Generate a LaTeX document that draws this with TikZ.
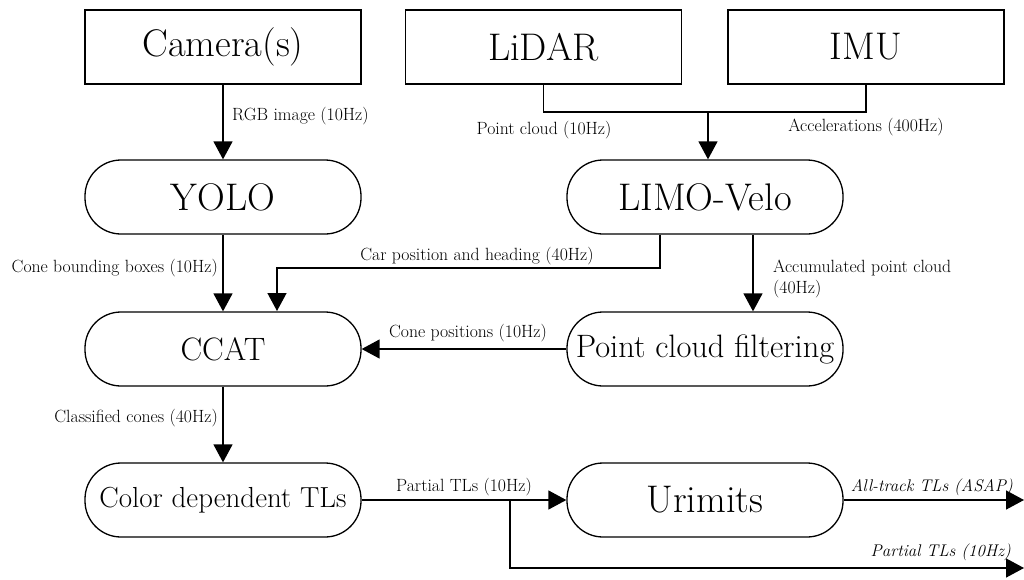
\documentclass[tikz,border=0pt]{standalone}
\usetikzlibrary{arrows.meta}
\begin{document}
\begin{tikzpicture}[x=1pt,y=-1pt,
  sensor/.style={draw,line width=1.3pt,minimum width=276pt,minimum height=74pt,inner sep=0pt,font=\fontsize{38.5}{44}\selectfont},
  proc/.style={draw,line width=1.3pt,rounded corners=36pt,minimum width=276pt,minimum height=74pt,inner sep=0pt,font=\fontsize{38.5}{44}\selectfont},
  procs/.style={proc,font=\fontsize{32.4}{37}\selectfont},
  procx/.style={proc,font=\fontsize{29}{34}\selectfont},
  conn/.style={line width=1.4pt,-{Triangle[length=18pt,width=19pt]}},
  plain/.style={line width=1.4pt},
  lbl/.style={font=\fontsize{17.7}{21}\selectfont,inner sep=0pt},
  ilbl/.style={lbl,font=\fontsize{16.9}{20}\selectfont\itshape}
]
\useasboundingbox (0,0) rectangle (1024,579);

\node[sensor] (cam) at (223,47) {Camera(s)};
\node[sensor] (lidar) at (543.5,47) {LiDAR};
\node[sensor] (imu) at (866,47) {IMU};

\node[proc] (yolo) at (223,197) {YOLO};
\node[proc] (limo) at (705,197) {LIMO-Velo};
\node[procs] (ccat) at (223,349) {CCAT};
\node[procs] (pcf) at (705,349) {Point cloud filtering};
\node[procx] (cdt) at (223,500) {Color dependent TLs};
\node[proc] (uri) at (705,500) {Urimits};

\coordinate (j) at (708,112);
\coordinate (br) at (510,500);
\coordinate (out1) at (1024,500);
\coordinate (out2) at (1024,568);

% camera -> yolo
\draw[conn] (cam) -- (yolo);
\node[lbl,anchor=west] (l1) at (232,116) {RGB image (10Hz)};

% lidar + imu -> limo
\draw[plain] (lidar.south) |- (j) -| (imu.south);
\draw[conn] (j) -- (j |- limo.north);
\node[lbl] (l2) at (544,130) {Point cloud (10Hz)};
\node[lbl] (l3) at (866,127) {Accelerations (400Hz)};

% yolo -> ccat
\draw[conn] (yolo) -- (ccat);
\node[lbl,anchor=east] (l4) at (218,268) {Cone bounding boxes (10Hz)};

% limo -> ccat
\draw[conn] (limo.south -| 660,0) |- (277,268) -- (277,311);
\node[lbl] (l5) at (477,256) {Car position and heading (40Hz)};

% limo -> pcf
\draw[conn] (limo.south -| 753,0) -- (pcf.north -| 753,0);
\node[lbl,anchor=west,align=left] (l6) at (773,279) {Accumulated point cloud\\[0pt](40Hz)};

% pcf -> ccat
\draw[conn] (pcf) -- (ccat);
\node[lbl] (l7) at (468,333) {Cone positions (10Hz)};

% ccat -> cdt
\draw[conn] (ccat) -- (cdt);
\node[lbl,anchor=east] (l8) at (218,418) {Classified cones (40Hz)};

% cdt -> urimits
\draw[conn] (cdt) -- (uri);
\node[lbl] (l9) at (464,487) {Partial TLs (10Hz)};

% branch
\draw[conn] (br) |- (out2);
\node[ilbl,anchor=east] (l10) at (1011,552) {Partial TLs (10Hz)};

% urimits -> out
\draw[conn] (uri) -- (out1);
\node[ilbl,anchor=east] (l11) at (1013,487) {All-track TLs (ASAP)};
\end{tikzpicture}
\end{document}
